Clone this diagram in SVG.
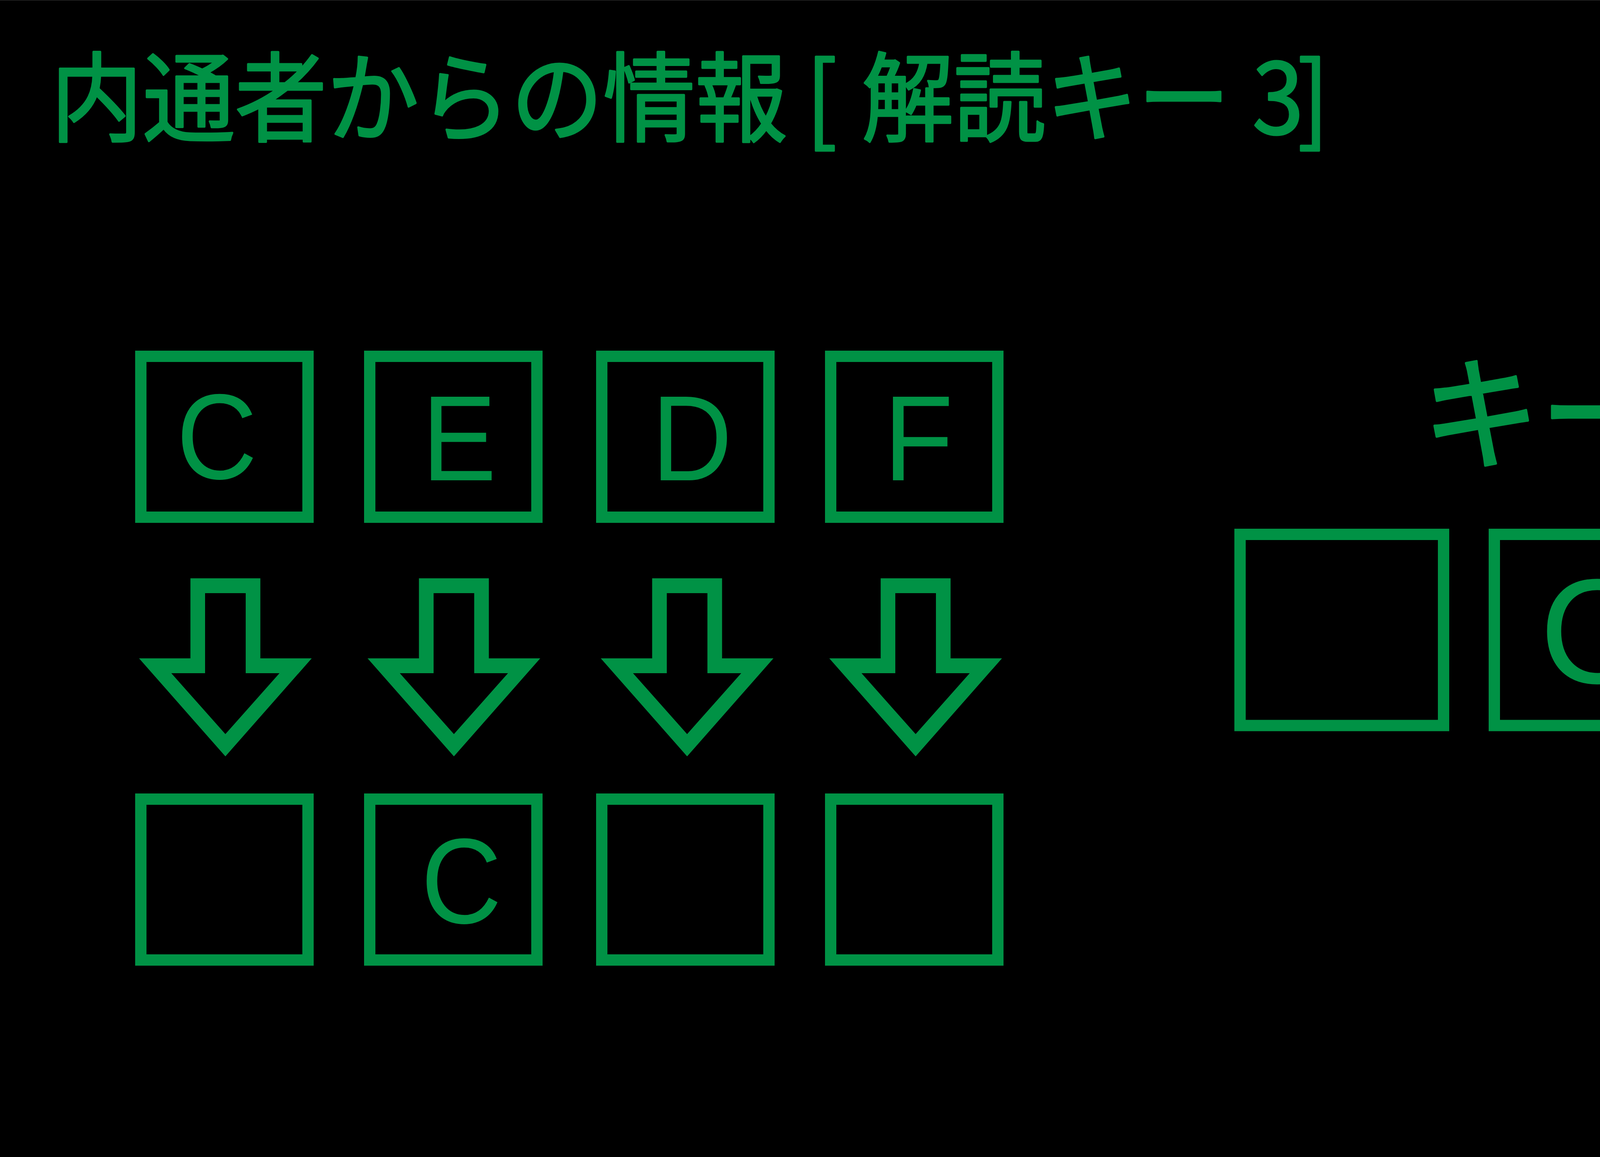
<svg xmlns="http://www.w3.org/2000/svg" width="6050" height="2963" viewBox="0 0 6050 2963">
<style>
.box{fill:none;stroke:#009245;stroke-width:29}
.lat{font-family:"Liberation Sans",Arial,sans-serif;fill:#009245}
.jp{font-family:"Noto Sans CJK JP","Noto Sans",sans-serif;fill:#009245;stroke:#009245;stroke-width:5;stroke-linejoin:round}
.arrow{fill:#009245;fill-rule:evenodd}
</style>
<defs>
<path id="arrow" class="arrow" d="M -89.5 1481 H 89.5 V 1686 H 221 L 0 1937 L -221 1686 H -89.5 Z M -52 1519 H 52 V 1724 H 138.5 L 0 1880 L -138.5 1724 H -52 Z"/>
</defs>
<rect x="0" y="0" width="6050" height="2963" fill="#000000"/>
<rect x="0" y="0" width="6050" height="1" fill="#3b3b3b"/>
<g id="title">
<text class="jp" font-size="250" transform="translate(0,343) scale(0.943,1)" y="0"><tspan x="137.5">内通者からの情報</tspan><tspan x="2188">[</tspan><tspan x="2339">解読キー </tspan><tspan x="3400" letter-spacing="-16">3]</tspan></text>
</g>
<g id="src-C">
<rect class="box" x="360.5" y="912.5" width="428" height="412"/>
<text class="lat" font-size="311" text-anchor="middle" transform="translate(555,1226) scale(0.92,1)">C</text>
</g>
<g id="src-E">
<rect class="box" x="946.5" y="912.5" width="428" height="412"/>
<text class="lat" font-size="311" transform="translate(1080,1230) scale(0.92,1)">E</text>
</g>
<g id="src-D">
<rect class="box" x="1540.5" y="912.5" width="428" height="412"/>
<text class="lat" font-size="311" transform="translate(1668,1230) scale(0.92,1)">D</text>
</g>
<g id="src-F">
<rect class="box" x="2126.5" y="912.5" width="428" height="412"/>
<text class="lat" font-size="311" transform="translate(2262,1230) scale(0.94,1)">F</text>
</g>
<g id="dst-1">
<rect class="box" x="360.5" y="2046.5" width="428" height="412"/>
</g>
<g id="dst-2">
<rect class="box" x="946.5" y="2046.5" width="428" height="412"/>
<text class="lat" font-size="311" text-anchor="middle" transform="translate(1181,2364) scale(0.92,1)">C</text>
</g>
<g id="dst-3">
<rect class="box" x="1540.5" y="2046.5" width="428" height="412"/>
</g>
<g id="dst-4">
<rect class="box" x="2126.5" y="2046.5" width="428" height="412"/>
</g>
<g id="connectors">
<use href="#arrow" x="577"/>
<use href="#arrow" x="1162"/>
<use href="#arrow" x="1759"/>
<use href="#arrow" x="2344"/>
</g>
<g id="keyword-label">
<text class="jp" font-size="320" x="3640" y="1178" textLength="1512" lengthAdjust="spacingAndGlyphs" style="stroke-width:6">キーワード</text>
</g>
<g id="kw-1">
<rect class="box" x="3174.5" y="1368.5" width="521" height="489.5"/>
</g>
<g id="kw-2">
<rect class="box" x="3825.5" y="1368.5" width="521" height="489.5"/>
<text class="lat" font-size="382" text-anchor="middle" x="4079" y="1749">C</text>
</g>
<g id="kw-3">
<rect class="box" x="4490.5" y="1368.5" width="521" height="489.5"/>
</g>
<g id="kw-4">
<rect class="box" x="5143" y="1368.5" width="521" height="489.5"/>
</g>
</svg>
